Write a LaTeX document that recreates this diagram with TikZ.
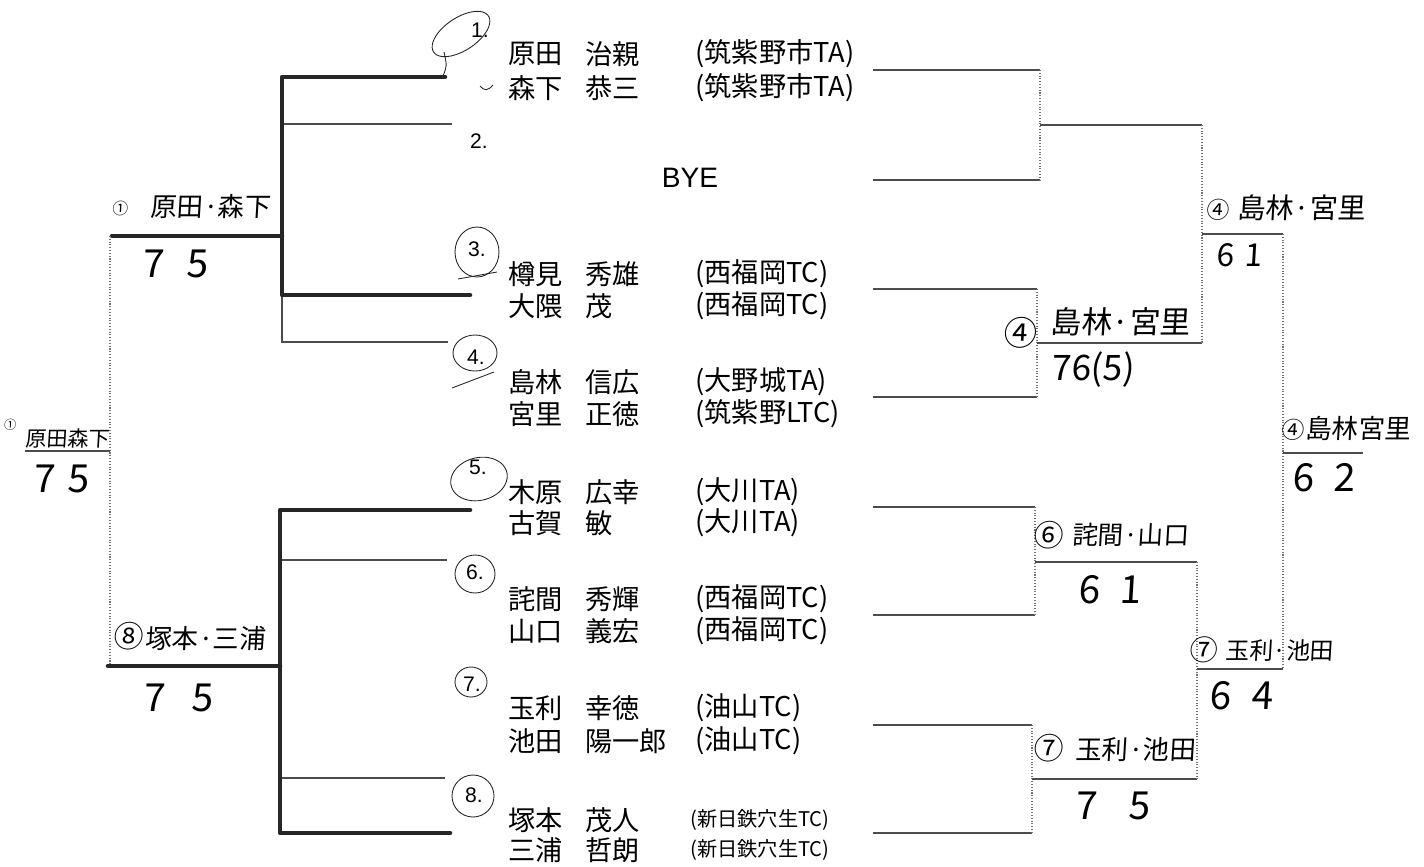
\documentclass[tikz,border=0pt]{standalone}
\usepackage{fontspec}
\setmainfont{Liberation Sans}
\newfontfamily\jp{Noto Sans CJK JP}
\newfontfamily\hand[FakeSlant=0.06]{Noto Sans CJK JP}
\usetikzlibrary{positioning}

\begin{document}
\begin{tikzpicture}[x=0.02cm, y=-0.02cm,
    pline/.style={line width=0.6pt, black!70},
    vline/.style={line width=0.6pt, black!55, densely dotted},
    hline/.style={line width=2.6pt, black!85, line cap=round, line join=round},
    hcirc/.style={line width=0.5pt, black!85},
    entry/.style={anchor=west, inner sep=0pt, font=\jp\fontsize{15.5}{15.5}\selectfont},
    seedno/.style={inner sep=0pt, font=\fontsize{12}{12}\selectfont},
    hw/.style={anchor=west, inner sep=0pt, font=\hand\fontsize{#1}{#1}\selectfont},
    hw/.default=14,
    circnum/.style={inner sep=0pt, font=\hand\fontsize{#1}{#1}\selectfont},
    score/.style={inner sep=0pt, font=\hand\fontsize{#1}{#1}\selectfont},
    score/.default=22
]
\useasboundingbox (0,0) rectangle (1424,866);

% entry lines on the right
\foreach \y [count=\i] in {70,180,289,397,507,615,725,833}
    \coordinate (e\i) at (873,\y);
\coordinate (m1) at (1040,125);
\coordinate (m2) at (1037,343);
\coordinate (m3) at (1035,562);
\coordinate (m4) at (1032,779);
\coordinate (s1) at (1202,234);
\coordinate (s2) at (1197,669);
\coordinate (fin) at (1283,453);

\draw[pline] (e1) -- (e1 -| m1);
\draw[pline] (e2) -- (e2 -| m1);
\draw[vline] (e1 -| m1) -- (e2 -| m1);
\draw[pline] (e3) -- (e3 -| m2);
\draw[pline] (e4) -- (e4 -| m2);
\draw[vline] (e3 -| m2) -- (e4 -| m2);
\draw[pline] (e5) -- (e5 -| m3);
\draw[pline] (e6) -- (e6 -| m3);
\draw[vline] (e5 -| m3) -- (e6 -| m3);
\draw[pline] (e7) -- (e7 -| m4);
\draw[pline] (e8) -- (e8 -| m4);
\draw[vline] (e7 -| m4) -- (e8 -| m4);

\draw[pline] (m1) -- (m1 -| s1);
\draw[pline] (m2) -- (m2 -| s1);
\draw[vline] (m1 -| s1) -- (m2 -| s1);
\draw[pline] (m3) -- (m3 -| s2);
\draw[pline] (m4) -- (m4 -| s2);
\draw[vline] (m3 -| s2) -- (m4 -| s2);

\draw[pline] (s1) -- (s1 -| fin);
\draw[pline] (s2) -- (s2 -| fin);
\draw[vline] (s1 -| fin) -- (s2 -| fin);
\draw[pline] (fin) -- ++(80,0);

% left side, marked by hand
\coordinate (ql) at (282,236);
\coordinate (qb) at (280,666);
\coordinate (lf) at (110,451);
\draw[pline] (452,124) -- (282,124);
\draw[pline] (448,342) -- (282,342) -- (282,295);
\draw[hline] (445,77) -- (282,77) -- (282,295) -- (470,295);
\draw[hline] (ql) -- (112,236);
\draw[pline] (447,560) -- (280,560);
\draw[pline] (445,778) -- (280,778);
\draw[hline] (470,510) -- (280,510) -- (280,833) -- (450,833);
\draw[hline] (qb) -- (108,666);
\draw[vline] (ql -| lf) -- (qb -| lf);
\draw[pline] (lf) -- (25,451);

% draw numbers
\node[seedno] (n1) at (480,30) {1.};
\node[seedno] (n2) at (479,141) {2.};
\node[seedno] (n3) at (477,249) {3.};
\node[seedno] (n4) at (476,357) {4.};
\node[seedno] (n5) at (478,467) {5.};
\node[seedno] (n6) at (475,572) {6.};
\node[seedno] (n7) at (472,684) {7.};
\node[seedno] (n8) at (474,795) {8.};
\node[font=\fontsize{16}{16}\selectfont, inner sep=0pt] (bye) at (690,178) {BYE};

% hand circles round the numbers
\draw[hcirc] plot[domain=0:360, samples=48, smooth cycle]
    ({461+28*cos(\x)+7*sin(\x)}, {34-17*cos(\x)+15*sin(\x)});
\draw[hcirc] (444,52) .. controls (447,66) .. (443,76);
\draw[hcirc] (480,86) .. controls (484,91) and (488,91) .. (493,85);
\draw[hcirc] (477,252) ellipse (22 and 25);
\draw[hcirc] (458,279) -- (497,272);
\draw[hcirc] (475,353) ellipse (22 and 18);
\draw[hcirc] (452,388) -- (494,372);
\draw[hcirc] plot[domain=0:360, samples=48, smooth cycle]
    ({479+28*cos(\x)+4*sin(\x)}, {479-6*cos(\x)+21*sin(\x)});
\draw[hcirc] (475,574) ellipse (20 and 19);
\draw[hcirc] (471,682) ellipse (16 and 15);
\draw[hcirc] (473,796) ellipse (21 and 21);

% players
\foreach \y/\sn/\gn/\cl [count=\i] in {
    54/原田/治親/(筑紫野市TA), 88/森下/恭三/(筑紫野市TA),
    274/樽見/秀雄/(西福岡TC), 306/大隈/茂/(西福岡TC),
    382/島林/信広/(大野城TA), 414/宮里/正徳/(筑紫野LTC),
    492/木原/広幸/(大川TA), 523/古賀/敏/(大川TA),
    599/詫間/秀輝/(西福岡TC), 631/山口/義宏/(西福岡TC),
    708/玉利/幸徳/(油山TC), 741/池田/陽一郎/(油山TC)} {
    \node[entry] (p\i) at (508,\y) {\sn};
    \node[entry] (g\i) at (585,\y) {\gn};
    \node[entry] (c\i) at (695,\y) {\cl};
}
\node[entry] (p13) at (508,820) {塚本};
\node[entry] (g13) at (585,820) {茂人};
\node[entry, font=\jp\fontsize{11.5}{12}\selectfont] (c13) at (690,820) {(新日鉄穴生TC)};
\node[entry] (p14) at (508,850) {三浦};
\node[entry] (g14) at (585,850) {哲朗};
\node[entry, font=\jp\fontsize{11.5}{12}\selectfont] (c14) at (690,850) {(新日鉄穴生TC)};

% results written by hand
\node[circnum=9] (k1) at (120,208) {①};
\node[hw=15] (w1) at (150,206) {原田·森下};
\node[score] (r1) at (175,264) {7\hspace{13pt}5};
\node[circnum=17] (k2) at (128,636) {⑧};
\node[hw=15] (w2) at (145,638) {塚本·三浦};
\node[score] (r2) at (178,698) {7\hspace{15pt}5};
\node[circnum=7] (k3) at (10,425) {①};
\node[hw=12] (w3) at (25,438) {原田森下};
\node[score] (r3) at (61,479) {7\hspace{7pt}5};

\node[circnum=13] (k4) at (1218,210) {④};
\node[hw=16] (w4) at (1237,208) {島林·宮里};
\node[score=18] (r4) at (1239,255) {6\hspace{6pt}1};
\node[circnum=19] (k5) at (1020,333) {④};
\node[hw=17.5] (w5) at (1050,322) {島林·宮里};
\node[score=20] (r5) at (1093,370) {76(5)};
\node[circnum=13] (k6) at (1293,430) {④};
\node[hw=15] (w6) at (1305,428) {島林宮里};
\node[score] (r6) at (1324,478) {6\hspace{11pt}2};
\node[circnum=17] (k7) at (1048,535) {⑥};
\node[hw=14.5] (w7) at (1072,535) {詫間·山口};
\node[score] (r7) at (1110,590) {6\hspace{11pt}1};
\node[circnum=16] (k8) at (1204,650) {⑦};
\node[hw=13.5] (w8) at (1225,651) {玉利·池田};
\node[score] (r8) at (1241,696) {6\hspace{12pt}4};
\node[circnum=17] (k9) at (1048,748) {⑦};
\node[hw=15] (w9) at (1075,750) {玉利·池田};
\node[score] (r9) at (1113,806) {7\hspace{18pt}5};
\end{tikzpicture}
\end{document}
